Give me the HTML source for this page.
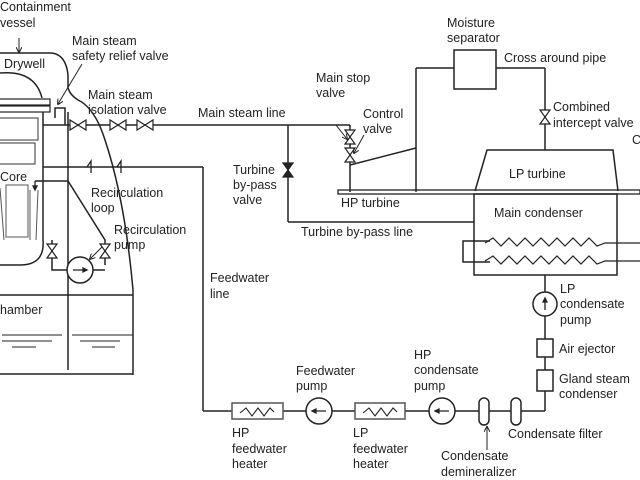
<!DOCTYPE html>
<html><head><meta charset="utf-8"><style>
html,body{margin:0;padding:0;background:#fff;}
svg{display:block;}
text{font-family:"Liberation Sans",Arial,sans-serif;font-size:12.5px;fill:#222;}
</style></head><body>
<svg width="640" height="480" viewBox="0 0 640 480" xmlns="http://www.w3.org/2000/svg">
<defs>
<marker id="ah" markerWidth="6" markerHeight="6" refX="5" refY="3" orient="auto"><path d="M0,0 L6,3 L0,6" fill="none" stroke="#222" stroke-width="1"/></marker>
</defs>
<g fill="none" stroke="#222" stroke-width="1.5">
<path d="M0,53 L52,53 Q66,55 68,75 L68,88 Q70,95 78,100 Q95,108 105,140 Q125,200 133,290"/>
<line x1="68" y1="112" x2="68" y2="370"/>
<line x1="0" y1="295" x2="133" y2="295"/>
<line x1="133" y1="290" x2="133" y2="375"/>
<line x1="0" y1="374" x2="133" y2="374"/>
<g stroke-width="1"><line x1="2" y1="335" x2="62" y2="335"/><line x1="72" y1="335" x2="133" y2="335"/><line x1="2" y1="341" x2="52" y2="341"/><line x1="80" y1="341" x2="120" y2="341"/><line x1="12" y1="347" x2="36" y2="347"/><line x1="92" y1="347" x2="115" y2="347"/></g>
<path d="M0,73 Q35,70 42,98"/>
<rect x="-2" y="99" width="52" height="6" stroke-width="1.2"/>
<rect x="-2" y="106" width="52" height="6" stroke-width="1.2"/>
<line x1="43" y1="112" x2="43" y2="240"/>
<path d="M43,240 Q45,265 20,265 L0,265"/>
<rect x="-2" y="118" width="40" height="22" stroke-width="1.2" stroke="#555"/>
<rect x="-2" y="143" width="37" height="21" stroke-width="1.2" stroke="#555"/>
<g stroke-width="1" stroke="#555"><rect x="6" y="185" width="22" height="52"/><line x1="30" y1="190" x2="30" y2="240"/><line x1="38" y1="190" x2="36" y2="240"/><line x1="0" y1="188" x2="4" y2="240"/></g>
<line x1="43" y1="125" x2="350" y2="125"/>
<line x1="350" y1="125" x2="350" y2="192"/>
<path d="M55,118 L55,108 L65,108 L65,125"/>
<line x1="350" y1="165" x2="416" y2="148"/>
<line x1="416" y1="68" x2="416" y2="192"/>
<line x1="416" y1="68" x2="454" y2="68"/>
<rect x="454" y="50" width="42" height="39"/>
<line x1="496" y1="68" x2="545" y2="68"/>
<line x1="545" y1="68" x2="545" y2="150"/>
<rect x="338" y="190" width="302" height="4" stroke-width="1.3"/>
<path d="M475,191 L487,150 L613,150 L618,191"/>
<rect x="474" y="194" width="143" height="81"/>
<path d="M490,241 L463,241 L463,262 L490,262"/>
<path d="M485,243 l8,-5 l8,8 l8,-8 l8,8 l8,-8 l8,8 l8,-8 l8,8 l8,-8 l8,8 l8,-8 l8,8 l8,-8 l8,8 l8,-3 L640,243" stroke-width="1.2"/>
<path d="M485,261 l8,-5 l8,8 l8,-8 l8,8 l8,-8 l8,8 l8,-8 l8,8 l8,-8 l8,8 l8,-8 l8,8 l8,-8 l8,8 l8,-3 L640,261" stroke-width="1.2"/>
<line x1="288" y1="125" x2="288" y2="222"/>
<line x1="288" y1="222" x2="474" y2="222"/>
<line x1="43" y1="167" x2="203" y2="167"/>
<line x1="203" y1="167" x2="203" y2="411"/>
<line x1="203" y1="411" x2="545" y2="411"/>
<line x1="545" y1="275" x2="545" y2="411"/>
<path d="M87,167 l4,-6 l0,12 M117,167 l4,-6 l0,12" stroke-width="1.3"/>
<rect x="232" y="403" width="51" height="16" fill="#fff" stroke="#555"/>
<path d="M240,413 l6,-5 l6,8 l6,-8 l6,8 l6,-8 l4,4" stroke-width="1.1"/>
<rect x="355" y="403" width="50" height="16" fill="#fff" stroke="#555"/>
<path d="M363,413 l6,-5 l6,8 l6,-8 l6,8 l6,-8 l4,4" stroke-width="1.1"/>
<circle cx="319" cy="411" r="13" fill="#fff"/>
<circle cx="442" cy="411" r="13" fill="#fff"/>
<rect x="479" y="398" width="10" height="27" rx="5" fill="#fff"/>
<rect x="511" y="398" width="10" height="27" rx="5" fill="#fff"/>
<rect x="537" y="370" width="16" height="21" fill="#fff"/>
<rect x="537" y="339" width="16" height="18" fill="#fff"/>
<circle cx="545" cy="304" r="12" fill="#fff"/>
<path d="M35,181 L68,181 L105,240 L105,265 M52,240 L52,270 L67,270 M93,270 L105,270"/>
<circle cx="80" cy="270" r="13" fill="#fff"/>
</g>
<g fill="#fff" stroke="#222" stroke-width="1.2">
<path d="M70,120 l0,10 l8,-5 z M86,120 l0,10 l-8,-5 z"/>
<path d="M110,120 l0,10 l8,-5 z M126,120 l0,10 l-8,-5 z"/>
<path d="M137,120 l0,10 l8,-5 z M153,120 l0,10 l-8,-5 z"/>
<path d="M345,130 l10,0 l-5,7 z M345,144 l10,0 l-5,-7 z"/>
<path d="M345,148 l10,0 l-5,7 z M345,162 l10,0 l-5,-7 z"/>
<path d="M540,110 l10,0 l-5,7 z M540,124 l10,0 l-5,-7 z"/>
<path d="M47,244 l10,0 l-5,7 z M47,258 l10,0 l-5,-7 z"/>
<path d="M100,244 l10,0 l-5,7 z M100,258 l10,0 l-5,-7 z"/>
<path d="M283,163 l10,0 l-5,7 z M283,177 l10,0 l-5,-7 z" fill="#222"/>
</g>
<g stroke="#222" stroke-width="1.3" fill="#222">
<path d="M312,411 L326,411 M312,411 l4,-2 l0,4 z"/>
<path d="M435,411 L449,411 M435,411 l4,-2 l0,4 z"/>
<path d="M73,270 L87,270 M87,270 l-4,-2 l0,4 z"/>
<path d="M545,298 L545,310 M545,298 l-2,4 l4,0 z"/>
<path d="M35,181 L35,188 M35,190 l-2,-4 l4,0 z"/>
</g>
<g stroke="#222" stroke-width="1" fill="none" marker-end="url(#ah)">
<line x1="19" y1="38" x2="19" y2="52"/>
<line x1="82" y1="64" x2="58" y2="104"/>
<line x1="336" y1="125" x2="347" y2="139"/>
<line x1="364" y1="135" x2="354" y2="153"/>
<line x1="102" y1="247" x2="90" y2="259"/>
<line x1="487" y1="450" x2="487" y2="427"/>
</g>
<text x="0" y="11">Containment</text>
<text x="0" y="27">vessel</text>
<text x="4" y="68">Drywell</text>
<text x="72" y="45">Main steam</text>
<text x="72" y="60">safety relief valve</text>
<text x="88" y="99">Main steam</text>
<text x="88" y="114">isolation valve</text>
<text x="198" y="117">Main steam line</text>
<text x="316" y="82">Main stop</text>
<text x="316" y="97">valve</text>
<text x="363" y="118">Control</text>
<text x="363" y="133">valve</text>
<text x="447" y="27">Moisture</text>
<text x="447" y="42">separator</text>
<text x="504" y="62">Cross around pipe</text>
<text x="553" y="111">Combined</text>
<text x="553" y="127">intercept valve</text>
<text x="632" y="144">C</text>
<text x="509" y="178">LP turbine</text>
<text x="341" y="207">HP turbine</text>
<text x="494" y="217">Main condenser</text>
<text x="301" y="236">Turbine by-pass line</text>
<text x="233" y="174">Turbine</text>
<text x="233" y="189">by-pass</text>
<text x="233" y="204">valve</text>
<text x="0" y="181">Core</text>
<text x="91" y="197">Recirculation</text>
<text x="91" y="212">loop</text>
<text x="114" y="234">Recirculation</text>
<text x="114" y="249">pump</text>
<text x="0" y="314">hamber</text>
<text x="210" y="282">Feedwater</text>
<text x="210" y="298">line</text>
<text x="560" y="293">LP</text>
<text x="560" y="308">condensate</text>
<text x="560" y="324">pump</text>
<text x="559" y="353">Air ejector</text>
<text x="559" y="383">Gland steam</text>
<text x="559" y="398">condenser</text>
<text x="296" y="375">Feedwater</text>
<text x="296" y="390">pump</text>
<text x="414" y="359">HP</text>
<text x="414" y="374">condensate</text>
<text x="414" y="390">pump</text>
<text x="232" y="437">HP</text>
<text x="232" y="453">feedwater</text>
<text x="232" y="468">heater</text>
<text x="353" y="437">LP</text>
<text x="353" y="453">feedwater</text>
<text x="353" y="468">heater</text>
<text x="508" y="438">Condensate filter</text>
<text x="441" y="460">Condensate</text>
<text x="441" y="476">demineralizer</text>
</svg>
</body></html>
